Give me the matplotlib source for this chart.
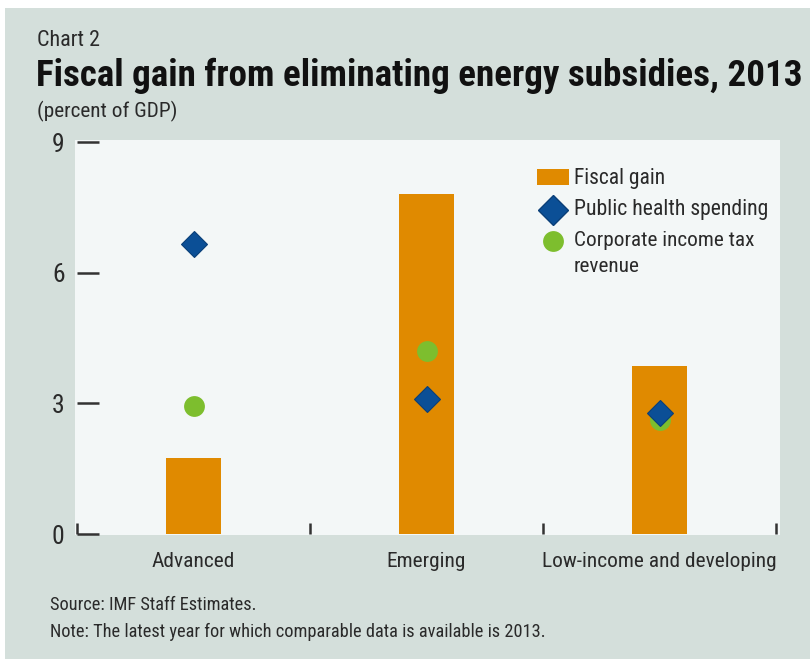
import matplotlib
matplotlib.use("Agg")
import matplotlib.pyplot as plt
from matplotlib.patches import Rectangle
from matplotlib.lines import Line2D
from matplotlib import font_manager
from matplotlib.font_manager import FontProperties

categories = ["Advanced", "Emerging", "Low-income and developing"]
fiscal_gain = [1.75, 7.8, 3.85]
health_spending = [6.65, 3.1, 2.78]
corp_tax = [2.95, 4.2, 2.62]
yticks = [0, 3, 6, 9]


def _weight(w):
    if isinstance(w, int):
        return w
    return {"bold": 700, "normal": 400, "regular": 400, "medium": 500,
            "semibold": 600, "light": 300}.get(str(w).lower(), 400)


def find_narrow(bold):
    pref = ["liberation sans narrow", "roboto condensed", "open sans condensed",
            "noto sans condensed", "dejavu sans condensed", "dejavu sans"]
    found = []
    for f in font_manager.fontManager.ttflist:
        name = f.name.lower()
        path = f.fname.lower()
        st = f.stretch
        narrow = ("narrow" in name or "condensed" in name or "condensed" in path
                  or "narrow" in path or str(st) in ("condensed", "semi-condensed",
                                                    "extra-condensed", "ultra-condensed")
                  or (isinstance(st, int) and st < 500))
        if not narrow or f.style != "normal":
            continue
        if "mono" in path or ("serif" in path and "sans" not in path):
            continue
        if "extra" in path or "ultra" in path or "semi" in path or "light" in path:
            continue
        w = _weight(f.weight)
        if bold != (w >= 600):
            continue
        rank = len(pref)
        for i, p in enumerate(pref):
            if p in name or p.replace(" ", "") in path.replace("-", "").replace("_", ""):
                rank = i
                break
        found.append((rank, f.fname))
    if found:
        found.sort()
        return FontProperties(fname=found[0][1])
    return FontProperties(family=["Liberation Sans", "DejaVu Sans"],
                          weight="bold" if bold else "normal")


FP = find_narrow(False)
FPB = find_narrow(True)
try:
    plt.rcParams["font.family"] = [FP.get_name(), "DejaVu Sans"]
except Exception:
    pass

ORANGE = "#E08A00"
BLUE = "#0B4F96"
GREEN = "#7DBE2E"
FIG_BG = "#d4dfdb"
AX_BG = "#f3f7f7"
TXT = "#2a2a2a"

W, H = 810, 659
fig = plt.figure(figsize=(W / 100, H / 100), dpi=100)
fig.patch.set_facecolor("white")
fig.add_artist(Rectangle((5 / W, 0), 1 - 5 / W, 1 - 8 / H, transform=fig.transFigure,
                         facecolor=FIG_BG, edgecolor="none", zorder=-10))
fig.add_artist(Rectangle((75 / W, 1 - 535 / H), (780 - 75) / W, (535 - 140) / H,
                         transform=fig.transFigure, facecolor=AX_BG, edgecolor="none", zorder=-5))

texts = []


def T(xp, yp, s, width, bold=False, color=TXT):
    t = fig.text(xp / W, 1 - yp / H, s, fontproperties=FPB if bold else FP,
                 color=color, va="center", ha="left", fontsize=13)
    texts.append((t, width))
    return t


# measure tick-label font size from the widest category label
r = fig.canvas.get_renderer()
probe = fig.text(0, 0, categories[2], fontproperties=FP, fontsize=13)
tick_fs = 13 * 234 / probe.get_window_extent(r).width
probe.remove()

ax = fig.add_axes([77 / W, 1 - 534 / H, (776 - 77) / W, (534 - 142) / H])
ax.set_facecolor("none")
x = list(range(len(categories)))
ax.bar(x, fiscal_gain, width=0.24, color=ORANGE, zorder=2)
ax.plot(x, health_spending, linestyle="none", marker="D", markersize=13.5,
        color=BLUE, markeredgecolor="#0a3f78", markeredgewidth=0.8, zorder=4)
ax.plot(x, corp_tax, linestyle="none", marker="o", markersize=15,
        color=GREEN, markeredgecolor="none", zorder=3)

ax.set_xlim(-0.5, 2.5)
ax.set_ylim(0, 9)
ax.set_yticks(yticks)
ax.set_yticklabels([str(v) for v in yticks])
ax.set_xticks([-0.5, 0.5, 1.5, 2.5])
ax.set_xticklabels([])
ax.set_xticks(x, minor=True)
ax.set_xticklabels(categories, minor=True)
for s in ax.spines.values():
    s.set_visible(False)
ax.tick_params(axis="y", direction="in", length=16, width=1.8, color="#333333",
               labelsize=tick_fs * 1.2, labelcolor=TXT, pad=9)
ax.tick_params(axis="x", which="major", direction="in", length=8, width=1.8, color="#333333")
ax.tick_params(axis="x", which="minor", length=0, labelsize=tick_fs, labelcolor=TXT, pad=13)

T(37, 40, "Chart 2", 63)
T(36, 76, "Fiscal gain from eliminating energy subsidies, 2013", 761, bold=True, color="#111111")
T(37, 111, "(percent of GDP)", 140)

# Legend (manual)
fig.add_artist(Rectangle((537 / W, 1 - 185 / H), 32 / W, 16 / H, transform=fig.transFigure,
                         facecolor=ORANGE, edgecolor="none"))
fig.add_artist(Line2D([553 / W], [1 - 210 / H], transform=fig.transFigure, marker="D",
                      markersize=15.5, color=BLUE, markeredgecolor="#0a3f78", linestyle="none"))
fig.add_artist(Line2D([553 / W], [1 - 241 / H], transform=fig.transFigure, marker="o",
                      markersize=15, color=GREEN, markeredgecolor="none", linestyle="none"))
T(574, 179, "Fiscal gain", 91)
T(574, 210, "Public health spending", 194)
corp = T(574, 241, "Corporate income tax", 180)
rev = T(574, 267, "revenue", None)

T(50, 605, "Source: IMF Staff Estimates.", 206)
T(50, 632, "Note: The latest year for which comparable data is available is 2013.", 495)

# scale fonts to match reference text widths
fig.canvas.draw()
r = fig.canvas.get_renderer()
for t, wd in texts:
    if wd is None:
        continue
    bw = t.get_window_extent(r).width
    t.set_fontsize(t.get_fontsize() * wd / bw)
rev.set_fontsize(corp.get_fontsize())

fig.savefig("out.png", dpi=100, facecolor=fig.get_facecolor())
